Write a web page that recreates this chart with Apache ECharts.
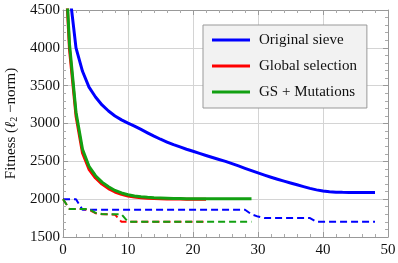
<!DOCTYPE html>
<html>
<head>
<meta charset="utf-8">
<script src="https://cdn.jsdelivr.net/npm/echarts@6/dist/echarts.min.js"></script>
<style>html,body{margin:0;padding:0;background:#fff}#c{width:398px;height:263px}</style>
</head>
<body>
<div id="c"></div>
<script>
// ---- data ----
var seriesNames = ['Original sieve', 'Global selection', 'GS + Mutations'];
var xTicks = [0, 10, 20, 30, 40, 50];
var yTicks = [1500, 2000, 2500, 3000, 3500, 4000, 4500];

// solid lines: current fitness per generation
var sieveStart = 1;
var sieveSolid = [4740, 4000, 3690, 3480, 3350, 3245, 3165, 3100, 3048, 3005,
  2965, 2922, 2877, 2833, 2792, 2755, 2720, 2690, 2660, 2633,
  2605, 2577, 2550, 2525, 2500, 2470, 2440, 2408, 2377, 2347,
  2318, 2290, 2263, 2238, 2214, 2190, 2166, 2143, 2123, 2107,
  2098, 2093, 2090, 2089, 2088, 2088, 2088, 2088];
var globalSolid = [5650, 3980, 3100, 2610, 2395, 2280, 2200, 2140, 2095, 2063,
  2042, 2028, 2018, 2012, 2008, 2005, 2003, 2002, 2001, 2000, 2000, 2000, 2000];
var mutSolid = [5700, 4050, 3150, 2660, 2435, 2310, 2225, 2165, 2115, 2082,
  2058, 2042, 2032, 2024, 2018, 2014, 2011, 2009, 2008, 2007,
  2006, 2006, 2005, 2005, 2005, 2005, 2005, 2005, 2005, 2005];

// dashed lines: best fitness per generation
var sieveDashed = [2000, 2000, 2000, 1860, 1860, 1860, 1860, 1860, 1860, 1860,
  1860, 1860, 1860, 1860, 1860, 1860, 1860, 1860, 1860, 1860,
  1860, 1860, 1860, 1860, 1860, 1860, 1860, 1860, 1860, 1800,
  1770, 1750, 1750, 1750, 1750, 1750, 1750, 1750, 1750, 1700,
  1700, 1700, 1700, 1700, 1700, 1700, 1700, 1700, 1700];
var globalDashed = [2000, 1870, 1870, 1870, 1860, 1815, 1800, 1800, 1795, 1700,
  1700, 1700, 1700, 1700, 1700, 1700, 1700, 1700, 1700, 1700, 1700, 1700, 1700];
var mutDashed = [2000, 1870, 1870, 1870, 1870, 1820, 1805, 1800, 1800, 1800,
  1700, 1700, 1700, 1700, 1700, 1700, 1700, 1700, 1700, 1700,
  1700, 1700, 1700, 1700, 1700, 1700, 1700, 1700, 1700, 1700];

var colors = ['#0000ff', '#ff0000', '#12a012'];

function pairs(arr, start) {
  return arr.map(function (v, i) { return [i + (start || 0), v]; });
}

var FONT = 'Times New Roman';
var chart = echarts.init(document.getElementById('c'), null, {renderer: 'canvas'});

function xAx(pos, labels) {
  return {
    type: 'value', position: pos, min: xTicks[0], max: xTicks[xTicks.length - 1], interval: 10,
    axisLine: {show: true, onZero: false, lineStyle: {color: '#999', width: 1}},
    axisTick: {show: true, inside: true, length: 5, lineStyle: {color: '#999'}},
    minorTick: {show: true, splitNumber: 5, length: 3, lineStyle: {color: '#aaa'}},
    splitLine: {show: labels, lineStyle: {color: '#d4d4d4', width: 1}},
    axisLabel: {show: labels, margin: 6, color: '#111', fontFamily: FONT, fontSize: 15,
      formatter: function (v) { return String(v); }}
  };
}
function yAx(pos, labels) {
  return {
    type: 'value', position: pos, min: yTicks[0], max: yTicks[yTicks.length - 1], interval: 500,
    axisLine: {show: true, onZero: false, lineStyle: {color: '#999', width: 1}},
    axisTick: {show: true, inside: true, length: 5, lineStyle: {color: '#999'}},
    minorTick: {show: true, splitNumber: 5, length: 3, lineStyle: {color: '#aaa'}},
    splitLine: {show: labels, lineStyle: {color: '#d4d4d4', width: 1}},
    axisLabel: {show: labels, margin: 3, color: '#111', fontFamily: FONT, fontSize: 15,
      formatter: function (v) { return String(v); }},
    name: labels ? 'Fitness ({i|ℓ}{s|2} −norm)' : '',
    nameLocation: 'middle', nameGap: 43,
    nameTextStyle: {color: '#111', fontFamily: FONT, fontSize: 15,
      rich: {i: {fontFamily: FONT, fontStyle: 'italic', fontSize: 15, color: '#111'},
             s: {fontFamily: FONT, fontSize: 10, color: '#111', verticalAlign: 'bottom', padding: [6, 0, 0, 0]}}}
  };
}

function solid(name, data, color) {
  return {name: name, type: 'line', data: data, showSymbol: false, symbol: 'none', clip: true,
    lineStyle: {color: color, width: 3, join: 'round'}, itemStyle: {color: color}, animation: false, z: 3};
}
function dashed(name, data, color) {
  return {name: name, type: 'line', data: data, showSymbol: false, symbol: 'none', clip: true,
    lineStyle: {color: color, width: 2, type: [7, 4]}, itemStyle: {color: color}, animation: false, z: 2};
}

chart.setOption({
  animation: false,
  textStyle: {fontFamily: FONT},
  grid: {left: 63, right: 10, top: 10, bottom: 26, containLabel: false, outerBoundsMode: 'none'},
  xAxis: [xAx('bottom', true), xAx('top', false)],
  yAxis: [yAx('left', true), yAx('right', false)],
  legend: {
    data: seriesNames.map(function (n, i) { return {name: n, icon: 'rect', itemStyle: {color: colors[i]}}; }),
    orient: 'vertical', left: 203, top: 25,
    itemWidth: 38, itemHeight: 3, itemGap: 10,
    padding: [7, 10, 8, 9],
    backgroundColor: '#f2f2f2', borderColor: '#999', borderWidth: 1, borderRadius: 0,
    textStyle: {fontFamily: FONT, fontSize: 15, color: '#111', lineHeight: 16, padding: [0, 0, 0, 4]}
  },
  series: [
    dashed('sieve-best', pairs(sieveDashed, 0), colors[0]),
    dashed('global-best', pairs(globalDashed, 0), colors[1]),
    dashed('mut-best', pairs(mutDashed, 0), colors[2]),
    solid(seriesNames[0], pairs(sieveSolid, sieveStart), colors[0]),
    solid(seriesNames[1], pairs(globalSolid, 0), colors[1]),
    solid(seriesNames[2], pairs(mutSolid, 0), colors[2])
  ]
});
</script>
</body>
</html>
